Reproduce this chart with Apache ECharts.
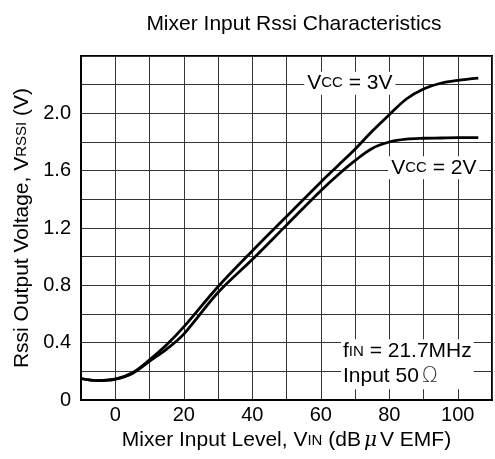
<!DOCTYPE html>
<html>
<head>
<meta charset="utf-8">
<script src="https://cdn.jsdelivr.net/npm/echarts@6/dist/echarts.min.js"></script>
<style>html,body{margin:0;padding:0;background:#fff;}#c{width:495px;height:459px;}</style>
</head>
<body>
<div id="c"></div>
<script>
// Input level (dBuV EMF)
const xVals = [-10, -5, 0, 5, 10, 15, 20, 30, 40, 50, 60, 65, 70, 75, 80, 85, 90, 95, 100, 106];
// RSSI output voltage (V), Vcc = 3V
const vcc3 = [0.15, 0.135, 0.145, 0.19, 0.28, 0.385, 0.51, 0.79, 1.04, 1.28, 1.52, 1.635, 1.75, 1.875, 1.99, 2.10, 2.17, 2.21, 2.23, 2.245];
// RSSI output voltage (V), Vcc = 2V
const vcc2 = [0.15, 0.135, 0.145, 0.185, 0.27, 0.355, 0.46, 0.75, 0.98, 1.22, 1.46, 1.57, 1.67, 1.755, 1.80, 1.82, 1.826, 1.828, 1.83, 1.83];
const xTickLabels = [0, 20, 40, 60, 80, 100];
const yTickLabels = ['0', '0.4', '0.8', '1.2', '1.6', '2.0'];

const FONT = 'Liberation Sans, Arial, sans-serif';
const small = { fontSize: 15, fontFamily: FONT, color: '#000' };
const big = { fontSize: 21, fontFamily: FONT, color: '#000' };

const chart = echarts.init(document.getElementById('c'), null, { renderer: 'canvas' });
chart.setOption({
  animation: false,
  backgroundColor: '#fff',
  title: {
    text: 'Mixer Input Rssi Characteristics',
    left: 289, top: 9, textAlign: 'center',
    textStyle: { fontSize: 21, fontWeight: 'normal', fontFamily: FONT, color: '#000' }
  },
  grid: { left: 81, right: -2, top: 56, bottom: 59, show: true, borderColor: '#000', borderWidth: 2, backgroundColor: 'transparent' },
  xAxis: {
    type: 'value', min: -10, max: 110, interval: 10,
    axisLine: { show: true, onZero: false, lineStyle: { color: '#000', width: 2 } },
    axisTick: { show: false },
    splitLine: { show: true, lineStyle: { color: '#333', width: 1 } },
    axisLabel: {
      fontSize: 20, fontFamily: FONT, color: '#000', margin: 5,
      showMinLabel: true, showMaxLabel: true,
      formatter: v => xTickLabels.indexOf(Math.round(v)) >= 0 ? String(Math.round(v)) : ''
    },
    name: 'Mixer Input Level, V{s|IN} (dB{m|\u03bc}V EMF)',
    nameLocation: 'middle', nameGap: 29,
    nameTextStyle: {
      fontSize: 21, fontFamily: FONT, color: '#000',
      rich: { s: { fontSize: 15, fontFamily: FONT, color: '#000' }, m: { fontSize: 20, fontStyle: 'italic', fontFamily: 'DejaVu Serif', color: '#000', padding: [0, 3, 0, 3] } }
    }
  },
  yAxis: {
    type: 'value', min: 0, max: 2.4, interval: 0.2,
    axisLine: { show: true, onZero: false, lineStyle: { color: '#000', width: 2 } },
    axisTick: { show: false },
    splitLine: { show: true, lineStyle: { color: '#333', width: 1 } },
    axisLabel: {
      fontSize: 20, fontFamily: FONT, color: '#000', margin: 10,
      formatter: v => {
        const k = Math.round(v * 10);
        const s = k === 0 ? '0' : (k / 10).toFixed(1);
        return yTickLabels.indexOf(s) >= 0 ? s : '';
      }
    },
    name: 'Rssi Output Voltage, V{s|RSSI} (V)',
    nameLocation: 'middle', nameGap: 46, nameRotate: 90,
    nameTextStyle: {
      fontSize: 21, fontFamily: FONT, color: '#000',
      rich: { s: { fontSize: 15, fontFamily: FONT, color: '#000' } }
    }
  },
  series: [
    {
      name: 'Vcc = 3V', type: 'line', smooth: 0.35, symbol: 'none',
      data: xVals.map((x, i) => [x, vcc3[i]]),
      lineStyle: { color: '#000', width: 2.8 },
      markPoint: {
        symbol: 'rect', symbolSize: 0, silent: true,
        data: [
          { coord: [68.5, 2.21], label: { show: true, position: 'inside', backgroundColor: '#fff', padding: [1, 3, 1, 3],
            formatter: '{b|V}{s|CC}{b| = 3V}', rich: { s: small, b: big }, fontSize: 21, color: '#000', fontFamily: FONT } },
          { coord: [93, 1.62], label: { show: true, position: 'inside', backgroundColor: '#fff', padding: [1, 3, 1, 3],
            formatter: '{b|V}{s|CC}{b| = 2V}', rich: { s: small, b: big }, fontSize: 21, color: '#000', fontFamily: FONT } },
          { coord: [65.9, 0.25], label: { show: true, position: 'inside', align: 'left', backgroundColor: '#fff', padding: [0, 2, 0, 2],
            lineHeight: 25,
            formatter: '{b|f}{s|IN}{b| = 21.7MHz}\n{b|Input 50}{o|\u03a9}',
            rich: { s: small, b: { fontSize: 21, fontFamily: FONT, color: '#000', lineHeight: 25 }, o: { fontSize: 21, fontFamily: 'DejaVu Sans', fontWeight: 'lighter', color: '#333', padding: [0, 0, 0, 3], lineHeight: 25 } },
            fontSize: 21, color: '#000', fontFamily: FONT } }
        ]
      }
    },
    {
      name: 'Vcc = 2V', type: 'line', smooth: 0.35, symbol: 'none',
      data: xVals.map((x, i) => [x, vcc2[i]]),
      lineStyle: { color: '#000', width: 2.8 }
    }
  ]
});
</script>
</body>
</html>
